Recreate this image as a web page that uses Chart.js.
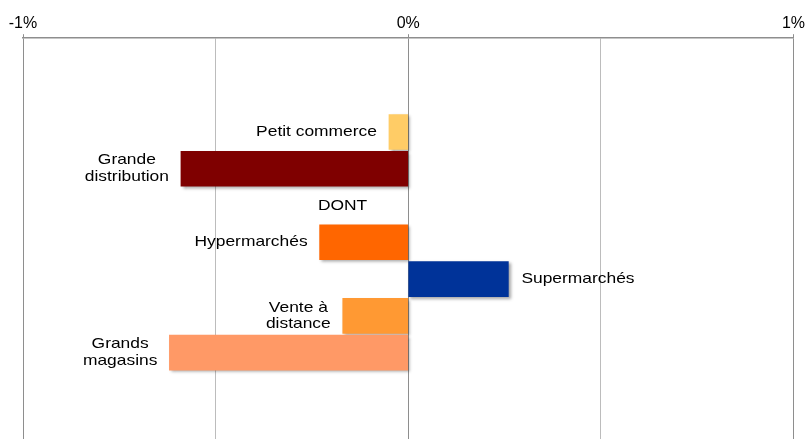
<!DOCTYPE html>
<html>
<head>
<meta charset="utf-8">
<script src="https://cdn.jsdelivr.net/npm/chart.js@4/dist/chart.umd.min.js"></script>
<style>
  html, body { margin: 0; padding: 0; background: #ffffff; }
  #wrap { position: relative; width: 806px; height: 439px; }
</style>
</head>
<body>
<div id="wrap"><canvas id="c" width="806" height="439"></canvas></div>
<script>
// ---- data ----
const categories = [
  ['Petit commerce'],
  ['Grande', 'distribution'],
  ['DONT'],
  ['Hypermarchés'],
  ['Supermarchés'],
  ['Vente à', 'distance'],
  ['Grands', 'magasins']
];
const values = [-0.05, -0.59, null, -0.23, 0.26, -0.17, -0.62];
const barColors = ['#FFCC66', '#7F0000', '#FFFFFF', '#FF6600', '#003399', '#FF9933', '#FF9966'];
const tickValues = [-1, 0, 1];
const tickLabels = ['-1%', '0%', '1%'];

const FONT = '"Liberation Sans", Arial, sans-serif';

const points = values.map((v, i) => ({ x: v, y: i }));

const shadowPlugin = {
  id: 'barShadow',
  beforeDatasetsDraw(chart) {
    const ctx = chart.ctx;
    ctx.save();
    ctx.shadowColor = 'rgba(0,0,0,0.35)';
    ctx.shadowOffsetX = 2;
    ctx.shadowOffsetY = 2;
    ctx.shadowBlur = 3;
  },
  afterDatasetsDraw(chart) {
    chart.ctx.restore();
  }
};

const labelPlugin = {
  id: 'barLabels',
  afterDatasetsDraw(chart) {
    const ctx = chart.ctx;
    const meta = chart.getDatasetMeta(0);
    const xs = chart.scales.x;
    const ys = chart.scales.y;
    const stretch = 1.2;
    const lineH = 16.5;
    ctx.save();
    ctx.font = '14.5px ' + FONT;
    ctx.fillStyle = '#000000';
    ctx.textBaseline = 'middle';
    ctx.textAlign = 'center';
    categories.forEach((lines, i) => {
      const v = values[i];
      const y = ys.getPixelForValue(i);
      const widths = lines.map(l => ctx.measureText(l).width * stretch);
      const blockW = Math.max(...widths);
      let cx;
      if (v === null) {
        cx = xs.getPixelForValue(0) - 41 - blockW / 2;
      } else if (v < 0) {
        const end = meta.data[i].x;
        cx = end - 12 - blockW / 2;
      } else {
        const end = meta.data[i].x;
        cx = end + 13 + blockW / 2;
      }
      const y0 = y - (lines.length - 1) * lineH / 2;
      lines.forEach((l, k) => {
        ctx.save();
        ctx.translate(cx, y0 + k * lineH);
        ctx.scale(stretch, 1);
        ctx.fillText(l, 0, 0);
        ctx.restore();
      });
    });
    ctx.restore();
  }
};

new Chart(document.getElementById('c'), {
  type: 'bar',
  data: {
    datasets: [{
      data: points,
      backgroundColor: barColors,
      borderWidth: 0,
      barThickness: 35
    }]
  },
  options: {
    indexAxis: 'y',
    responsive: false,
    animation: false,
    layout: { padding: { left: 23, right: 9, top: 13, bottom: 0 } },
    plugins: { legend: { display: false }, tooltip: { enabled: false } },
    scales: {
      x: {
        type: 'linear',
        position: 'top',
        min: -1,
        max: 1,
        ticks: {
          stepSize: 0.5,
          padding: 1,
          color: '#000000',
          font: { family: FONT, size: 16 },
          maxRotation: 0,
          autoSkip: false,
          callback: (v) => {
            const k = tickValues.indexOf(v);
            return k >= 0 ? tickLabels[k] : '';
          }
        },
        grid: {
          color: (c) => (tickValues.includes(c.tick && c.tick.value) ? '#8e8e8e' : '#bcbcbc'),
          tickColor: (c) => (tickValues.includes(c.tick && c.tick.value) ? '#8e8e8e' : 'rgba(0,0,0,0)'),
          tickLength: 4,
          lineWidth: 1
        },
        border: { display: true, color: '#8e8e8e', width: 1.5 }
      },
      y: {
        type: 'linear',
        reverse: true,
        offset: false,
        min: -2.55,
        max: 8.35,
        display: false,
        grid: { display: false }
      }
    }
  },
  plugins: [shadowPlugin, labelPlugin]
});
</script>
</body>
</html>
